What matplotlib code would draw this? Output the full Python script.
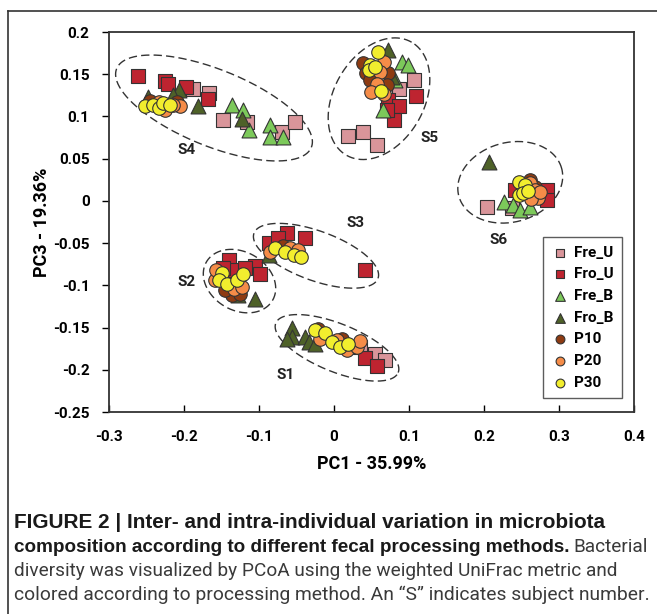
import numpy as np
import matplotlib.pyplot as plt
from matplotlib.lines import Line2D

# --- data (PC1, PC3) ---
fre_u_x = [-0.188, -0.167, -0.148, -0.116, -0.070, -0.052,
           0.019, 0.038, 0.057, 0.107, 0.086,
           0.204, 0.237,
           0.055, 0.068, 0.035]
fre_u_y = [0.132, 0.128, 0.096, 0.094, 0.082, 0.093,
           0.077, 0.082, 0.066, 0.143, 0.132,
           -0.007, -0.009,
           -0.181, -0.189, -0.173]

fro_u_x = [-0.262, -0.226, -0.222, -0.197, -0.168,
           0.072, 0.087, 0.080, 0.109, 0.070,
           0.284, 0.284, 0.241,
           -0.087, -0.063, -0.039, -0.075, 0.041,
           -0.140, -0.105, -0.099, -0.132, -0.119, -0.148,
           0.041, 0.057]
fro_u_y = [0.148, 0.142, 0.139, 0.135, 0.121,
           0.119, 0.112, 0.096, 0.124, 0.108,
           0.013, 0.001, 0.013,
           -0.050, -0.038, -0.044, -0.044, -0.082,
           -0.070, -0.077, -0.087, -0.082, -0.080, -0.080,
           -0.186, -0.196]

fre_b_x = [-0.136, -0.121, -0.113, -0.085, -0.085, -0.068,
           0.091, 0.099, 0.065, 0.081,
           0.226, 0.239, 0.248, 0.261]
fre_b_y = [0.114, 0.108, 0.084, 0.090, 0.076, 0.076,
           0.164, 0.161, 0.108, 0.143,
           -0.001, -0.005, -0.011, -0.007]

fro_b_x = [-0.248, -0.207, -0.182, -0.123, -0.215,
           0.072, 0.077,
           0.206,
           -0.087,
           -0.105, -0.128,
           -0.056, -0.056, -0.039, -0.034, -0.025, -0.063]
fro_b_y = [0.123, 0.131, 0.112, 0.097, 0.125,
           0.179, 0.147,
           0.046,
           -0.064,
           -0.116, -0.112,
           -0.151, -0.161, -0.161, -0.167, -0.169, -0.163]

p10_x = [-0.210, -0.245,
         0.038, 0.043, 0.072, 0.070, 0.048,
         0.261, 0.268,
         -0.068, -0.054,
         -0.136, -0.125, -0.145,
         -0.021, 0.011]
p10_y = [0.117, 0.118,
         0.163, 0.151, 0.151, 0.137, 0.143,
         0.025, 0.017,
         -0.054, -0.060,
         -0.112, -0.110, -0.105,
         -0.152, -0.164]

p20_x = [-0.234, -0.205, -0.225, -0.215,
         0.066, 0.061, 0.057, 0.049, 0.066,
         0.261, 0.268, 0.272, 0.263, 0.275,
         -0.085, -0.059, -0.048,
         -0.159, -0.134, -0.123, -0.157,
         -0.019, 0.004, 0.017, 0.030, 0.035]
p20_y = [0.117, 0.112, 0.108, 0.113,
         0.165, 0.153, 0.139, 0.129, 0.127,
         0.021, 0.013, 0.003, 0.002, 0.011,
         -0.060, -0.056, -0.058,
         -0.094, -0.104, -0.102, -0.082,
         -0.163, -0.165, -0.177, -0.173, -0.166]

p30_x = [-0.252, -0.241, -0.234, -0.228, -0.219,
         0.058, 0.048, 0.046, 0.063, 0.054,
         0.246, 0.255, 0.246, 0.252, 0.259,
         -0.079, -0.065, -0.054, -0.044,
         -0.150, -0.153, -0.143, -0.130, -0.121,
         -0.025, -0.012, -0.003, 0.008, 0.019]
p30_y = [0.112, 0.114, 0.110, 0.116, 0.114,
         0.176, 0.161, 0.155, 0.130, 0.158,
         0.022, 0.019, 0.007, 0.009, 0.012,
         -0.056, -0.060, -0.064, -0.066,
         -0.085, -0.094, -0.099, -0.094, -0.087,
         -0.153, -0.157, -0.167, -0.173, -0.169]

# subject groupings (dashed ellipses) and labels
subjects = ["S4", "S5", "S6", "S3", "S2", "S1"]
ell_cx = [-0.160, 0.060, 0.235, -0.024, -0.126, 0.004]
ell_cy = [0.110, 0.121, 0.022, -0.065, -0.095, -0.174]
ell_a = [0.140, 0.087, 0.071, 0.088, 0.051, 0.088]
ell_b = [0.051, 0.060, 0.053, 0.033, 0.039, 0.032]
ell_ang = [-22, 60, 15, -20, -30, -22]
label_x = [-0.197, 0.128, 0.219, 0.029, -0.197, -0.065]
label_y = [0.060, 0.074, -0.046, -0.026, -0.096, -0.206]

series = [
    ("Fre_U", fre_u_x, fre_u_y, "s", "#D9959A", 90),
    ("Fro_U", fro_u_x, fro_u_y, "s", "#BE2430", 90),
    ("Fre_B", fre_b_x, fre_b_y, "^", "#7CC95A", 115),
    ("Fro_B", fro_b_x, fro_b_y, "^", "#4E6128", 115),
    ("P10", p10_x, p10_y, "o", "#8E3B12", 95),
    ("P20", p20_x, p20_y, "o", "#F58C48", 95),
    ("P30", p30_x, p30_y, "o", "#F2EE2E", 95),
]

FONT = "Roboto"
CAP_BOLD = "Liberation Sans"
CAP_REG = "Roboto"

fig = plt.figure(figsize=(6.57, 6.14), dpi=100)
W, H = 657, 614
ax = fig.add_axes([109 / W, 1 - 412 / H, 525 / W, 380 / H])

for name, xs, ys, mk, col, s in series:
    ax.scatter(xs, ys, marker=mk, s=s, c=col, edgecolors="#333333",
               linewidths=0.8, label=name, zorder=3)

ax.set_xlim(-0.3, 0.4)
ax.set_ylim(-0.25, 0.2)

# ellipses: semi-axes given in x-data units, y scaled by the axes aspect
px_per_x = 525 / 0.7
px_per_y = 380 / 0.45
t = np.linspace(0, 2 * np.pi, 300)
for cx, cy, a, b, ang in zip(ell_cx, ell_cy, ell_a, ell_b, ell_ang):
    th = np.radians(ang)
    dx = a * np.cos(t) * np.cos(th) - b * np.sin(t) * np.sin(th)
    dy = a * np.cos(t) * np.sin(th) + b * np.sin(t) * np.cos(th)
    ax.plot(cx + dx, cy + dy * px_per_x / px_per_y, color="#333333",
            lw=1.0, dashes=(6, 3), zorder=2)

for lab, lx, ly in zip(subjects, label_x, label_y):
    ax.text(lx, ly, lab, fontsize=11, fontweight="bold", family=FONT,
            ha="center", va="center", color="#222222")

ax.set_xticks(np.round(np.arange(-0.3, 0.41, 0.1), 2))
ax.set_yticks(np.round(np.arange(-0.25, 0.201, 0.05), 2))
ax.set_xticklabels(["-0.3", "-0.2", "-0.1", "0", "0.1", "0.2", "0.3", "0.4"])
ax.set_yticklabels(["-0.25", "-0.2", "-0.15", "-0.1", "-0.05", "0",
                    "0.05", "0.1", "0.15", "0.2"])
ax.tick_params(axis="x", direction="in", length=5, pad=13, width=1)
ax.tick_params(axis="y", direction="out", length=5, pad=9, width=1)
for lbl in ax.get_xticklabels() + ax.get_yticklabels():
    lbl.set_fontweight("bold")
    lbl.set_family(FONT)
    lbl.set_fontsize(11)
for sp in ax.spines.values():
    sp.set_linewidth(1.3)
    sp.set_color("#333333")

fig.text(372 / W, 1 - 464 / H, "PC1 - 35.99%", fontsize=13, fontweight="bold",
         family=FONT, ha="center", va="center")
fig.text(42 / W, 1 - 222 / H, "PC3 - 19.36%", fontsize=13, fontweight="bold",
         family=FONT, ha="center", va="center", rotation=90)

leg = ax.legend(loc="lower right", bbox_to_anchor=(0.977, 0.037),
                borderaxespad=0, frameon=True, fancybox=False,
                markerscale=0.65, handletextpad=0.3, labelspacing=0.5,
                handlelength=1.2, borderpad=0.55,
                prop={"family": FONT, "weight": "bold", "size": 11})
leg.get_frame().set_edgecolor("#333333")
leg.get_frame().set_linewidth(1.0)

# outer frame of the figure panel (open to the right and bottom)
fig.add_artist(Line2D([8 / W, 8 / W], [0, 1 - 11 / H], transform=fig.transFigure,
                      color="#333333", lw=1.2))
fig.add_artist(Line2D([8 / W, 1], [1 - 11 / H, 1 - 11 / H], transform=fig.transFigure,
                      color="#333333", lw=1.2))

# caption: each line scaled so it spans the same width as in the reference
caption = [
    ("FIGURE 2 | Inter- and intra-individual variation in microbiota", "bold", 523, 603),
    ("composition according to different fecal processing methods.", "bold", 547, 565),
    ("diversity was visualized by PCoA using the weighted UniFrac metric and",
     "normal", 571, 617),
    ("colored according to processing method. An \u201cS\u201d indicates subject number.",
     "normal", 595, 648),
]
renderer = fig.canvas.get_renderer()
sizes = []
for txt, wt, ypx, right in caption:
    fam = CAP_BOLD if wt == "bold" else CAP_REG
    col = "#1a1a1a" if wt == "bold" else "#3a3a3a"
    tobj = fig.text(14 / W, 1 - ypx / H, txt, fontsize=12, fontweight=wt,
                    family=fam, va="center", color=col)
    wpx = tobj.get_window_extent(renderer).width
    fs = 12 * (right - 14) / wpx
    tobj.set_fontsize(fs)
    sizes.append(fs)
fig.text(648 / W, 1 - 547 / H, "Bacterial", fontsize=sizes[2], family=CAP_REG,
         va="center", ha="right", color="#3a3a3a")

fig.savefig("out.png", dpi=100)
